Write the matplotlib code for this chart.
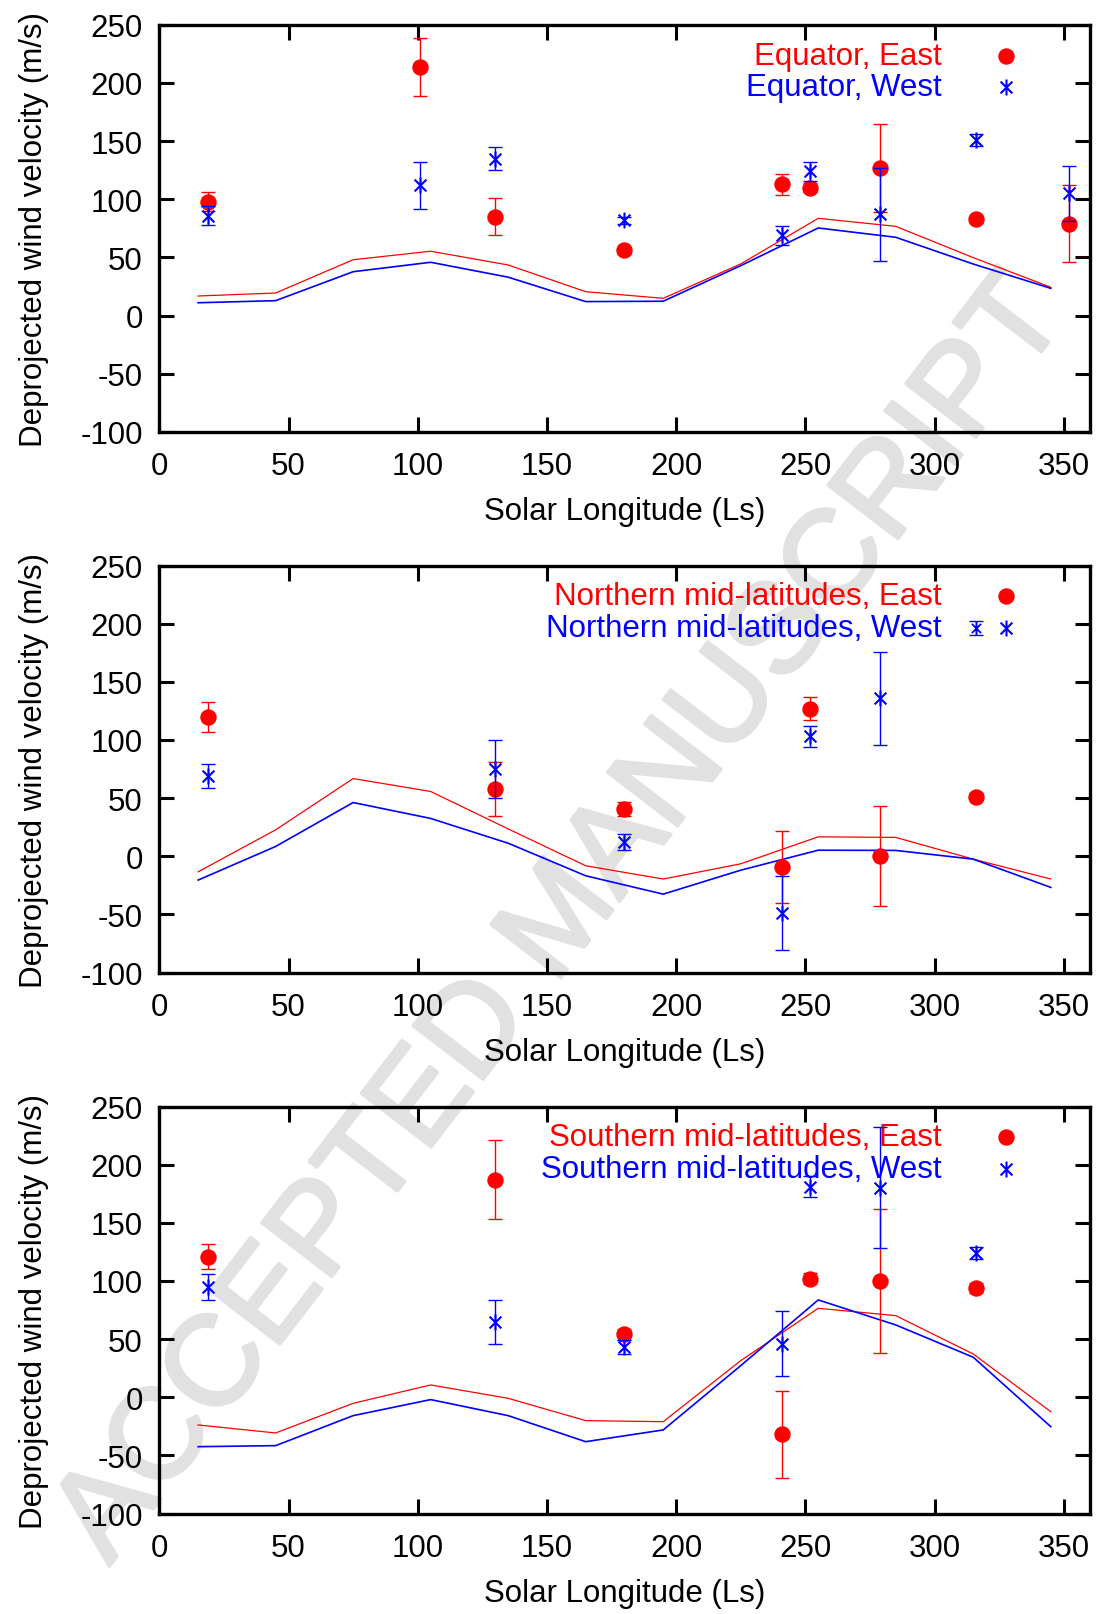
import matplotlib
matplotlib.use("Agg")
import matplotlib.pyplot as plt
import matplotlib.patheffects as pe
from matplotlib.path import Path
import numpy as np

plt.rcParams['font.family'] = ['Liberation Sans', 'DejaVu Sans']
plt.rcParams['axes.unicode_minus'] = False

# Model curve sampling (solar longitude, degrees)
model_ls = [15, 45, 75, 105, 135, 165, 195, 225, 255, 285, 315, 345]

# Equator
eq_model_east = [16.8, 19.4, 48.0, 55.3, 43.5, 20.5, 14.8, 44.4, 83.6, 76.7, 49.8, 24.3]
eq_model_west = [11.0, 12.8, 37.7, 45.8, 33.0, 12.0, 12.3, 42.9, 75.3, 67.3, 44.3, 23.4]
eq_east_ls = [19, 101, 130, 180, 241, 252, 279, 316, 352]
eq_east_v = [98, 214, 85, 56, 113, 110, 127, 83, 79]
eq_east_err = [8, 25, 16, 3, 9, 4, 38, 3, 33]
eq_west_ls = [19, 101, 130, 180, 241, 252, 279, 316, 352]
eq_west_v = [86, 112, 135, 82, 69, 124, 87, 151, 105]
eq_west_err = [8, 20, 10, 3, 8, 8, 40, 5, 24]

# Northern mid-latitudes
nm_model_east = [-13.4, 22.7, 66.8, 55.7, 23.5, -8.2, -19.6, -6.5, 16.7, 16.2, -2.5, -19.6]
nm_model_west = [-20.5, 8.4, 46.2, 32.5, 11.2, -16.8, -32.6, -12.0, 5.2, 5.0, -2.5, -26.8]
nm_east_ls = [19, 130, 180, 241, 252, 279, 316]
nm_east_v = [120, 58, 41, -9, 127, 0, 51]
nm_east_err = [13, 23, 6, 31, 10, 43, 3]
nm_west_ls = [19, 130, 180, 241, 252, 279]
nm_west_v = [69, 75, 12, -49, 103, 136]
nm_west_err = [10, 25, 7, 32, 9, 40]

# Southern mid-latitudes
sm_model_east = [-23.8, -30.7, -5.2, 10.6, -0.9, -20.1, -21.0, 31.5, 76.5, 70.2, 37.2, -12.4]
sm_model_west = [-42.5, -41.6, -15.8, -2.0, -15.8, -38.2, -28.1, 27.2, 83.7, 62.2, 34.4, -25.3]
sm_east_ls = [19, 130, 180, 241, 252, 279, 316]
sm_east_v = [121, 187, 54, -32, 102, 100, 94]
sm_east_err = [11, 34, 5, 37, 5, 62, 4]
sm_west_ls = [19, 130, 180, 241, 252, 279, 316]
sm_west_v = [95, 65, 43, 46, 181, 180, 124]
sm_west_err = [11, 19, 6, 28, 9, 52, 5]

panels = [
    ("Equator", eq_model_east, eq_model_west,
     (eq_east_ls, eq_east_v, eq_east_err), (eq_west_ls, eq_west_v, eq_west_err), False),
    ("Northern mid-latitudes", nm_model_east, nm_model_west,
     (nm_east_ls, nm_east_v, nm_east_err), (nm_west_ls, nm_west_v, nm_west_err), True),
    ("Southern mid-latitudes", sm_model_east, sm_model_west,
     (sm_east_ls, sm_east_v, sm_east_err), (sm_west_ls, sm_west_v, sm_west_err), False),
]

x_ticks = [0, 50, 100, 150, 200, 250, 300, 350]
y_ticks = [-100, -50, 0, 50, 100, 150, 200, 250]

RED = '#ff0000'
BLUE = '#0000ff'
FS = 22.5

# Asterisk: vertical stroke crossed by two diagonals
_d = 0.74
ASTERISK = Path([(0, -1), (0, 1), (-_d, -_d), (_d, _d), (-_d, _d), (_d, -_d)],
                [Path.MOVETO, Path.LINETO, Path.MOVETO, Path.LINETO,
                 Path.MOVETO, Path.LINETO])

fig = plt.figure(figsize=(10.99, 16.15), dpi=100)
fig.patch.set_facecolor('white')

bottoms = [0.7320, 0.3972, 0.0622]
left, width, height = 0.1450, 0.8464, 0.2520

# Watermark behind the panels
WM = '#e1e1e1'
fig.text(0.512, 0.429, 'ACCEPTED MANUSCRIPT', rotation=52.5, fontsize=92,
         color=WM, ha='center', va='center', rotation_mode='anchor',
         zorder=-5, path_effects=[pe.withStroke(linewidth=2.5, foreground=WM)])

for (name, m_east, m_west, east, west, key_bar), b in zip(panels, bottoms):
    ax = fig.add_axes([left, b, width, height])
    ax.set_facecolor('none')
    ax.plot(model_ls, m_east, color=RED, lw=0.9, zorder=2)
    ax.plot(model_ls, m_west, color=BLUE, lw=1.2, zorder=2)

    ax.errorbar(east[0], east[1], yerr=east[2], fmt='o', color=RED,
                markersize=10.8, elinewidth=1.0, capsize=5, capthick=1.0, zorder=3)
    ax.errorbar(west[0], west[1], yerr=west[2], fmt='none', ecolor=BLUE,
                elinewidth=1.0, capsize=5, capthick=1.0, zorder=4)
    ax.plot(west[0], west[1], linestyle='none', marker=ASTERISK, color=BLUE,
            markersize=11.5, markeredgewidth=1.5, zorder=4)

    ax.set_xlim(0, 360)
    ax.set_ylim(-100, 250)
    ax.set_xticks(x_ticks)
    ax.set_yticks(y_ticks)
    ax.tick_params(direction='in', length=10.8, width=2.2, top=True, right=True,
                   labelsize=FS)
    ax.tick_params(axis='x', pad=14)
    ax.tick_params(axis='y', pad=12)
    for s in ax.spines.values():
        s.set_linewidth(2.4)

    ax.set_xlabel('Solar Longitude (Ls)', fontsize=FS)
    ax.set_ylabel('Deprojected wind velocity (m/s)', fontsize=FS)
    ax.xaxis.set_label_coords(0.5, -0.158)
    ax.yaxis.set_label_coords(-0.119, 0.5)

    # Key
    ax.text(0.841, 0.924, f'{name}, East', transform=ax.transAxes, color=RED,
            fontsize=FS, ha='right', va='center')
    ax.text(0.841, 0.847, f'{name}, West', transform=ax.transAxes, color=BLUE,
            fontsize=FS, ha='right', va='center')
    ax.plot([0.910], [0.924], transform=ax.transAxes, marker='o', color=RED,
            markersize=10.8, linestyle='none', clip_on=False)
    ax.plot([0.910], [0.847], transform=ax.transAxes, marker=ASTERISK, color=BLUE,
            markersize=11.5, markeredgewidth=1.5, linestyle='none', clip_on=False)
    if key_bar:
        ax.errorbar([0.878], [0.847], yerr=[0.017], transform=ax.transAxes,
                    fmt='none', ecolor=BLUE, elinewidth=1.0, capsize=5,
                    capthick=1.0, clip_on=False)
        ax.plot([0.878], [0.847], transform=ax.transAxes, marker=ASTERISK,
                color=BLUE, markersize=9, markeredgewidth=1.3, linestyle='none',
                clip_on=False)

fig.savefig('out.png', dpi=100, facecolor='white')
